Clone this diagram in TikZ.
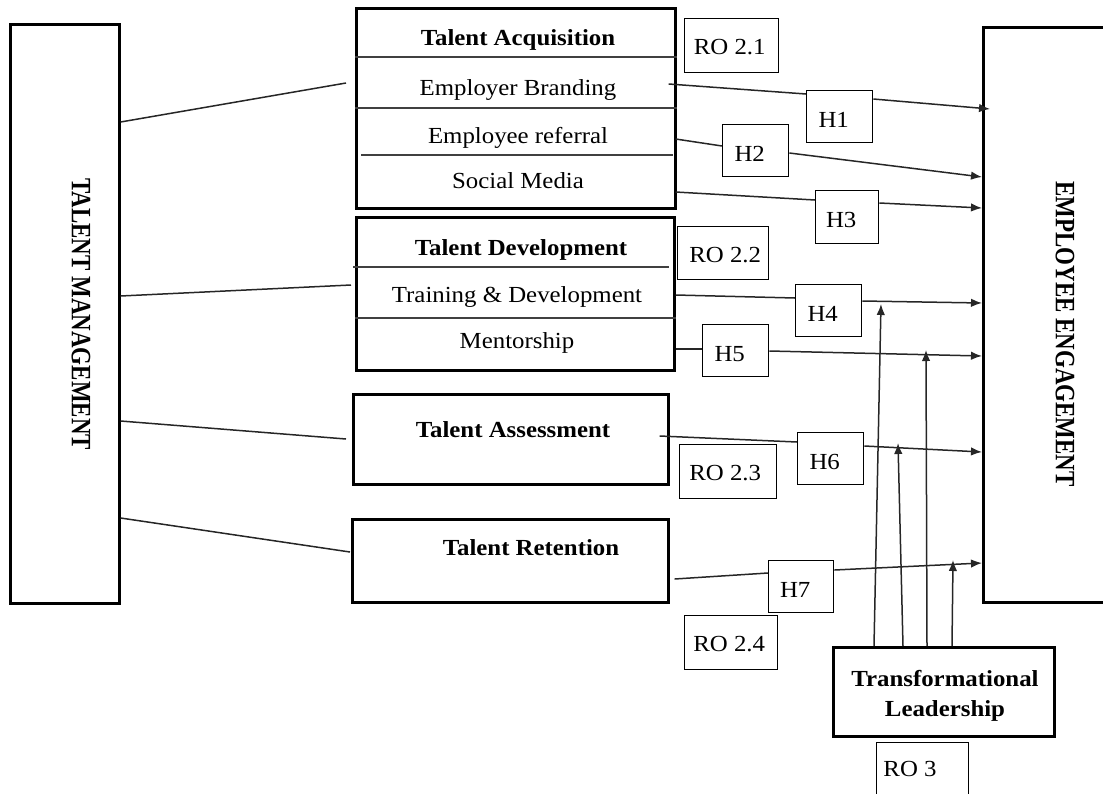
\documentclass[tikz,border=0pt]{standalone}
\usepackage{fontspec}
\setmainfont{Liberation Serif}[FakeStretch=1.08]
\newfontfamily\spinefont{Liberation Serif}[FakeStretch=0.82]
\usetikzlibrary{calc,arrows.meta}

\begin{document}
\begin{tikzpicture}[x=1pt,y=-1pt,
  txt/.style={font=\fontsize{23}{30}\selectfont, inner sep=0pt, anchor=base},
  head/.style={txt, font=\fontsize{23}{30}\selectfont\bfseries},
  spine/.style={font=\spinefont\fontsize{28}{30}\selectfont\bfseries, rotate=-90, inner sep=0pt},
  bigbox/.style={draw, line width=2.6pt, anchor=north west, inner sep=0pt},
  smallbox/.style={draw, line width=1.4pt, anchor=north west, inner sep=0pt},
  hbox/.style={smallbox, minimum width=66pt, minimum height=52pt},
  rule/.style={line width=1.5pt, black!75},
  link/.style={line width=1.5pt, black!85},
  arr/.style={link, -{Latex[length=11pt,width=8.5pt]}},
]
\clip (0,0) rectangle (1103,793);

% ---------- left column ----------
\node[bigbox, minimum width=109pt, minimum height=579pt] (tm) at (9,23) {};
\node[spine] (tmt) at (81,314) {TALENT MANAGEMENT};

% ---------- talent acquisition ----------
\node[bigbox, minimum width=319pt, minimum height=200pt] (ta) at (355,7) {};
\draw[rule] ($(ta.north west)+(0,50)$) -- ($(ta.north east)+(0,50)$);
\draw[rule] ($(ta.north west)+(0,101)$) -- ($(ta.north east)+(0,101)$);
\draw[rule] ($(ta.north west)+(6,148)$) -- ($(ta.north east)+(-4,148)$);
\node[head] (tah) at (518,45) {Talent Acquisition};
\node[txt] (ta1) at (518,95) {Employer Branding};
\node[txt] (ta2) at (518,143) {Employee referral};
\node[txt] (ta3) at (518,188) {Social Media};
\node[smallbox, minimum width=94pt, minimum height=54pt] (ro21) at (684,18) {};
\node[txt] (ro21t) at ($(ro21.center)+(-2,9)$) {RO 2.1};

% ---------- talent development ----------
\node[bigbox, minimum width=318pt, minimum height=153pt] (td) at (355,216) {};
\draw[rule] ($(td.north west)+(-2,51)$) -- ($(td.north east)+(-7,51)$);
\draw[rule] ($(td.north west)+(0,102)$) -- ($(td.north east)+(0,102)$);
\node[head] (tdh) at (521,255) {Talent Development};
\node[txt] (td1) at (517,302) {Training \& Development};
\node[txt] (td2) at (517,348) {Mentorship};
\node[smallbox, minimum width=91pt, minimum height=53pt] (ro22) at (677,226) {};
\node[txt] (ro22t) at ($(ro22.center)+(2,9)$) {RO 2.2};

% ---------- talent assessment ----------
\node[bigbox, minimum width=315pt, minimum height=90pt] (tas) at (352,393) {};
\node[head] (tash) at (513,437) {Talent Assessment};
\node[smallbox, minimum width=97pt, minimum height=54pt] (ro23) at (679,444) {};
\node[txt] (ro23t) at ($(ro23.center)+(-3,9)$) {RO 2.3};

% ---------- talent retention ----------
\node[bigbox, minimum width=316pt, minimum height=83pt] (tr) at (351,518) {};
\node[head] (trh) at (531,555) {Talent Retention};
\node[smallbox, minimum width=93pt, minimum height=54pt] (ro24) at (684,615) {};
\node[txt] (ro24t) at ($(ro24.center)+(-2,9)$) {RO 2.4};

% ---------- outcome ----------
\node[bigbox, minimum width=150pt, minimum height=575pt] (ee) at (982,26) {};
\node[spine] (eet) at (1065,334) {EMPLOYEE ENGAGEMENT};

% ---------- moderator ----------
\node[bigbox, minimum width=221pt, minimum height=89pt] (tl) at (832,646) {};
\node[font=\fontsize{23}{30}\selectfont\bfseries, align=center, inner sep=0pt]
  (tlt) at (945,696) {Transformational\\Leadership};
\node[smallbox, minimum width=92pt, minimum height=55pt] (ro3) at (876,742) {};
\node[txt] (ro3t) at (910,776) {RO 3};

% ---------- hypothesis tags ----------
\node[hbox] (h1) at (806,90) {};
\node[hbox] (h2) at (722,124) {};
\node[hbox, minimum width=63pt, minimum height=53pt] (h3) at (815,190) {};
\node[hbox] (h4) at (795,284) {};
\node[hbox] (h5) at (702,324) {};
\node[hbox] (h6) at (797,432) {};
\node[hbox, minimum width=65pt] (h7) at (768,560) {};
\foreach \h/\t in {h1/H1,h2/H2,h3/H3,h4/H4,h5/H5,h6/H6,h7/H7}
  \node[txt] (\h t) at ($(\h.center)+(-6,10.5)$) {\t};

% ---------- talent management to its dimensions ----------
\draw[link] ($(tm.north east)+(0,99)$)  -- ($(ta.north west)+(-9,76)$);
\draw[link] ($(tm.north east)+(0,273)$) -- ($(td.north west)+(-4,69)$);
\draw[link] ($(tm.north east)+(0,398)$) -- ($(tas.north west)+(-6,46)$);
\draw[link] ($(tm.north east)+(0,495)$) -- ($(tr.north west)+(-1,34)$);

% ---------- hypothesised paths ----------
\draw[link] ($(ta.north east)+(-8,77)$)  -- ($(h1.north west)+(0,4)$);
\draw[arr]  ($(h1.north east)+(0,9)$)    -- ($(ee.north west)+(8,83)$);
\draw[link] ($(ta.north east)+(-1,132)$) -- ($(h2.north west)+(0,22)$);
\draw[arr]  ($(h2.north east)+(0,29)$)   -- ($(ee.north west)+(0,151)$);
\draw[link] ($(ta.north east)+(-1,185)$) -- ($(h3.north west)+(0,10)$);
\draw[arr]  ($(h3.north east)+(0,13)$)   -- ($(ee.north west)+(0,182)$);
\draw[link] ($(td.north east)+(0,79)$)   -- ($(h4.north west)+(0,14)$);
\draw[arr]  ($(h4.north east)+(0,17)$)   -- ($(ee.north west)+(0,277)$);
\draw[link] ($(td.north east)+(0,133)$)  -- ($(h5.north west)+(0,25)$);
\draw[arr]  ($(h5.north east)+(0,27)$)   -- ($(ee.north west)+(0,330)$);
\draw[link] ($(tas.north east)+(-10,43)$) -- ($(h6.north west)+(0,10)$);
\draw[arr]  ($(h6.north east)+(0,14)$)   -- ($(ee.north west)+(0,426)$);
\draw[link] ($(tr.north east)+(5,61)$)   -- ($(h7.north west)+(0,13)$);
\draw[arr]  ($(h7.north east)+(0,10)$)   -- ($(ee.north west)+(0,537)$);

% ---------- moderating arrows ----------
\coordinate (m1) at (881,304);
\coordinate (m2) at (898,443);
\coordinate (m3) at (926,350);
\coordinate (m4) at (953,560);
\draw[arr] ($(tl.north west)+(42,0)$)  -- (m1);
\draw[arr] ($(tl.north west)+(71,0)$)  -- (m2);
\draw[arr] ($(tl.north west)+(95,0)$)  -- (m3);
\draw[arr] ($(tl.north west)+(120,0)$) -- (m4);
\end{tikzpicture}
\end{document}
